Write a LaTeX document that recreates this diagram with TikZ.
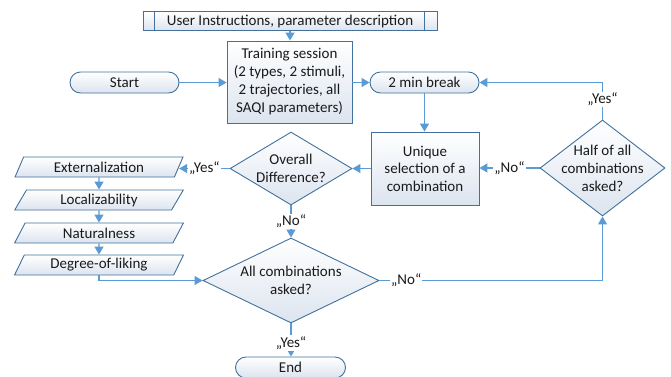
\documentclass[tikz,border=0pt]{standalone}
\usepackage{fontspec}
\setmainfont{Carlito}
\usetikzlibrary{shapes.geometric,arrows.meta}
\definecolor{edge}{HTML}{41719C}
\definecolor{flow}{HTML}{5B9BD5}
\definecolor{shadeb}{HTML}{DCE4EF}
\definecolor{ink}{HTML}{1A1A1A}
\tikzset{
  base/.style={draw=edge, line width=0.9pt, top color=white, bottom color=shadeb,
    text=ink, font=\fontsize{15}{18}\selectfont, align=center, inner sep=0pt},
  procbox/.style={base, rectangle},
  termbox/.style={base, rectangle, rounded corners=10.5pt, minimum width=109pt, minimum height=21pt},
  decbox/.style={base, diamond, inner sep=-16pt},
  iobox/.style={base, trapezium, trapezium left angle=64, trapezium right angle=116,
    trapezium stretches=true, minimum width=169pt, minimum height=20pt},
  flowline/.style={draw=flow, line width=1.3pt},
  arr/.style={flowline, -{Triangle[length=8pt,width=9pt]}},
  lbl/.style={fill=white, text=ink, font=\fontsize{15}{16}\selectfont, inner sep=1pt},
}
\begin{document}
\begin{tikzpicture}[x=1pt,y=-1pt]
\useasboundingbox (0,0) rectangle (671,376);

% instructions (predefined process)
\node[procbox, minimum width=294pt, minimum height=19pt] (ui) at (290,21)
  {User Instructions, parameter description};
\draw[edge, line width=0.9pt] ([xshift=12pt]ui.north west) -- ([xshift=12pt]ui.south west);
\draw[edge, line width=0.9pt] ([xshift=-13pt]ui.north east) -- ([xshift=-13pt]ui.south east);

% main flow
\node[termbox] (start) at (124.5,82.5) {Start};
\node[procbox, minimum width=125pt, minimum height=82pt] (tr) at (289.5,82)
  {Training session\\(2 types, 2 stimuli,\\2 trajectories, all\\SAQI parameters)};
\node[termbox] (brk) at (424.5,82.5) {2 min break};
\node[procbox, minimum width=108pt, minimum height=73pt, font=\fontsize{15}{17.5}\selectfont] (uni) at (425,168.5)
  {Unique\\selection of a\\combination};
\node[decbox, minimum width=122pt, minimum height=73pt] (od) at (291,168.5) {Overall\\Difference?};
\node[decbox, minimum width=125pt, minimum height=96pt] (half) at (602.5,168) {Half of all\\combinations\\asked?};
\node[decbox, minimum width=176pt, minimum height=85pt] (all) at (291,280.5) {All combinations\\asked?};
\node[termbox, minimum width=110pt] (stop) at (290.5,367.5) {End};

% rating attributes
\node[iobox] (ext) at (99,167) {Externalization};
\node[iobox] (loc) at (99,200) {Localizability};
\node[iobox] (nat) at (99,233) {Naturalness};
\node[iobox] (dol) at (99,265) {Degree-of-liking};

% connectors
\draw[arr] (ui.south) -- (ui.south |- tr.north);
\draw[arr] (start.east) -- (start.east -| tr.west);
\draw[arr] (tr.east |- brk.west) -- (brk.west);
\draw[arr] (brk.south) -- (brk.south |- uni.north);
\draw[arr] (uni.west) -- (uni.west -| od.east);
\draw[arr] (od.west) -- node[lbl]{„Yes“} (od.west -| ext.east);
\draw[arr] (ext) -- (loc);
\draw[arr] (loc) -- (nat);
\draw[arr] (nat) -- (dol);
\draw[arr] (dol.south) |- (all.west);
\draw[arr] (od.south) -- node[lbl]{„No“} (all.north);
\draw[arr] (all.east) -| node[lbl, pos=0.06]{„No“} (half.south);
\draw[arr] (half.west) -- node[lbl]{„No“} (half.west -| uni.east);
\draw[arr] (half.north) |- node[lbl, pos=0.27]{„Yes“} (brk.east);
\draw[arr] (all.south) -- node[lbl, pos=0.59]{„Yes“} (all.south |- stop.north);
\end{tikzpicture}
\end{document}
